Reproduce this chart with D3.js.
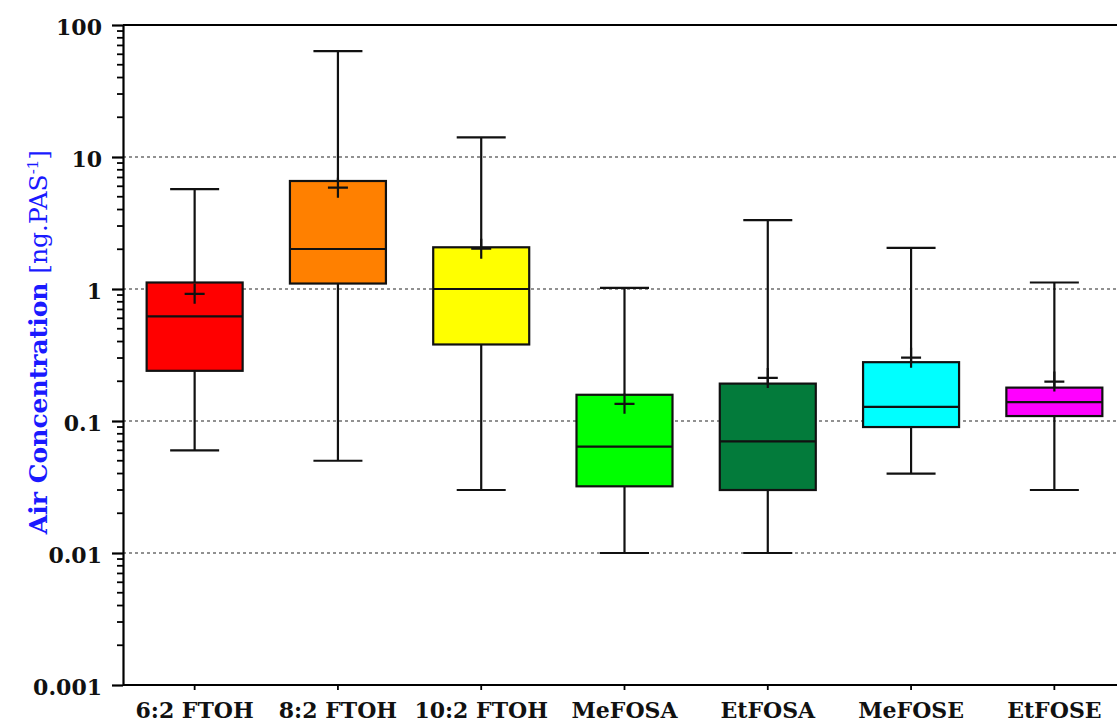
<!DOCTYPE html>
<html>
<head>
<meta charset="utf-8">
<script src="https://cdn.jsdelivr.net/npm/d3@7"></script>
<style>
  html, body { margin: 0; padding: 0; background: #fff; }
  svg { display: block; }
</style>
</head>
<body>
<svg id="chart" width="1117" height="725"></svg>
<script>
// Box-plot summary per compound (air concentration, ng per PAS)
const categories   = ["6:2 FTOH", "8:2 FTOH", "10:2 FTOH", "MeFOSA", "EtFOSA", "MeFOSE", "EtFOSE"];
const whiskerLow   = [0.06, 0.05, 0.03, 0.01, 0.01, 0.04, 0.03];
const quartile1    = [0.24, 1.10, 0.38, 0.032, 0.030, 0.090, 0.109];
const medians      = [0.62, 2.01, 1.00, 0.064, 0.070, 0.128, 0.139];
const quartile3    = [1.12, 6.58, 2.07, 0.158, 0.192, 0.279, 0.179];
const whiskerHigh  = [5.7, 63.5, 14.1, 1.02, 3.33, 2.05, 1.12];
const means        = [0.92, 5.86, 2.02, 0.135, 0.212, 0.302, 0.199];
const boxColors    = ["#ff0000", "#ff8000", "#ffff00", "#00ff00", "#037b3b", "#00ffff", "#ff00ff"];

const yTickValues  = [0.001, 0.01, 0.1, 1, 10, 100];
const yTickLabels  = ["0.001", "0.01", "0.1", "1", "10", "100"];

const svg = d3.select("#chart");
const plotLeft = 123, plotTop = 25, plotBottom = 685, plotRight = 1126;

const x = d3.scaleBand().domain(categories).range([plotLeft, plotRight]).padding(0);
const y = d3.scaleLog().domain([0.001, 100]).range([plotBottom, plotTop]);

const boxW = 96, capW = 49, plusHalf = 10;
const cx = c => x(c) + x.bandwidth() / 2;

const rows = categories.map((c, i) => ({
  name: c, lo: whiskerLow[i], q1: quartile1[i], med: medians[i],
  q3: quartile3[i], hi: whiskerHigh[i], mean: means[i], color: boxColors[i]
}));

// dashed decade gridlines
svg.append("g")
  .selectAll("line")
  .data(yTickValues.filter(v => v > 0.001 && v < 100))
  .join("line")
  .attr("x1", plotLeft).attr("x2", 1117)
  .attr("y1", d => y(d)).attr("y2", d => y(d))
  .attr("stroke", "#6e6e6e").attr("stroke-width", 1.7)
  .attr("stroke-dasharray", "3,3");

// top frame line
svg.append("line")
  .attr("x1", plotLeft).attr("x2", 1117)
  .attr("y1", y(100)).attr("y2", y(100))
  .attr("stroke", "#000").attr("stroke-width", 2.2);

// y axis with major ticks and labels
const yAxis = d3.axisLeft(y)
  .tickValues(yTickValues)
  .tickFormat((d, i) => yTickLabels[i])
  .tickSize(11).tickSizeOuter(0).tickPadding(10);
const gy = svg.append("g").attr("transform", `translate(${plotLeft},0)`).call(yAxis);
gy.select(".domain").attr("stroke-width", 2.2);
gy.selectAll(".tick line").attr("stroke-width", 2.2);
gy.selectAll(".tick text")
  .attr("font-family", "'DejaVu Serif', serif")
  .attr("font-weight", "bold").attr("font-size", 22)
  .attr("fill", "#111").attr("dy", "0.42em");

// minor log ticks
const minor = y.ticks().filter(v => !yTickValues.some(t => Math.abs(t - v) / t < 1e-9));
svg.append("g").selectAll("line").data(minor).join("line")
  .attr("x1", plotLeft - 6).attr("x2", plotLeft)
  .attr("y1", d => y(d)).attr("y2", d => y(d))
  .attr("stroke", "#000").attr("stroke-width", 1.8);

// x axis
const xAxis = d3.axisBottom(x).tickSize(5).tickSizeOuter(0).tickPadding(12);
const gx = svg.append("g").attr("transform", `translate(0,${plotBottom})`).call(xAxis);
gx.select(".domain").attr("stroke-width", 2.2).attr("d", `M${plotLeft},0H1117`);
gx.selectAll(".tick line").attr("stroke-width", 1.8);
gx.selectAll(".tick text")
  .attr("font-family", "'DejaVu Serif', serif")
  .attr("font-weight", "bold").attr("font-size", 22)
  .attr("fill", "#111");

// boxes
const g = svg.append("g").selectAll("g").data(rows).join("g");

g.append("line") // whisker
  .attr("x1", d => cx(d.name)).attr("x2", d => cx(d.name))
  .attr("y1", d => y(d.lo)).attr("y2", d => y(d.hi))
  .attr("stroke", "#111").attr("stroke-width", 2.2);

g.append("line") // upper cap
  .attr("x1", d => cx(d.name) - capW / 2).attr("x2", d => cx(d.name) + capW / 2)
  .attr("y1", d => y(d.hi)).attr("y2", d => y(d.hi))
  .attr("stroke", "#111").attr("stroke-width", 2.2);

g.append("line") // lower cap
  .attr("x1", d => cx(d.name) - capW / 2).attr("x2", d => cx(d.name) + capW / 2)
  .attr("y1", d => y(d.lo)).attr("y2", d => y(d.lo))
  .attr("stroke", "#111").attr("stroke-width", 2.2);

g.append("rect")
  .attr("x", d => cx(d.name) - boxW / 2).attr("width", boxW)
  .attr("y", d => y(d.q3)).attr("height", d => y(d.q1) - y(d.q3))
  .attr("fill", d => d.color).attr("stroke", "#111").attr("stroke-width", 2.2);

g.append("line") // median
  .attr("x1", d => cx(d.name) - boxW / 2).attr("x2", d => cx(d.name) + boxW / 2)
  .attr("y1", d => y(d.med)).attr("y2", d => y(d.med))
  .attr("stroke", "#111").attr("stroke-width", 2.2);

// mean marker (+)
g.append("path")
  .attr("d", d => {
    const px = cx(d.name), py = y(d.mean);
    return `M${px - plusHalf},${py}H${px + plusHalf}M${px},${py - plusHalf}V${py + plusHalf}`;
  })
  .attr("stroke", "#111").attr("stroke-width", 2.2).attr("fill", "none");

// y axis title
const title = svg.append("text")
  .attr("transform", "translate(47,342) rotate(-90)")
  .attr("text-anchor", "middle")
  .attr("font-family", "'DejaVu Serif', serif")
  .attr("font-size", 25)
  .attr("fill", "#1a1aff");
title.append("tspan").attr("font-weight", "bold").text("Air Concentration ");
title.append("tspan").text("[ng.PAS");
title.append("tspan").attr("font-size", 15).attr("baseline-shift", "super").text("-1");
title.append("tspan").text("]");
</script>
</body>
</html>
